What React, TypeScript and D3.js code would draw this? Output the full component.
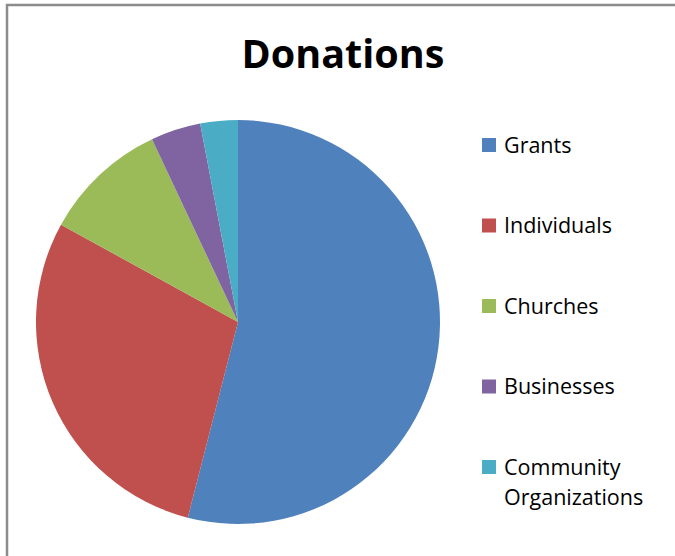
import { useEffect, useRef } from "react";
import * as d3 from "d3";

const categories = ["Grants", "Individuals", "Churches", "Businesses", "Community Organizations"];
const values = [54, 29, 10, 4, 3];
const colors = ["#4F81BD", "#C0504D", "#9BBB59", "#8064A2", "#4BACC6"];
const legendLines = [["Grants"], ["Individuals"], ["Churches"], ["Businesses"], ["Community", "Organizations"]];

export default function App() {
  const svgRef = useRef<SVGSVGElement>(null);

  useEffect(() => {
    if (!svgRef.current) return;
    const width = 675;
    const height = 556;
    const svg = d3.select(svgRef.current).attr("width", width).attr("height", height);
    svg.selectAll("*").remove();

    svg.append("rect").attr("width", width).attr("height", height).attr("fill", "#fff");

    // chart frame (left + top edges visible)
    svg.append("path")
      .attr("d", `M7,${height} V5 H${width}`)
      .attr("fill", "none")
      .attr("stroke", "#8c8c8c")
      .attr("stroke-width", 2.5);

    svg.append("text")
      .attr("x", 343)
      .attr("y", 68)
      .attr("text-anchor", "middle")
      .attr("font-family", "'Open Sans', sans-serif")
      .attr("font-weight", "bold")
      .attr("font-size", 39.5)
      .attr("fill", "#000")
      .text("Donations");

    const data = categories.map((c, i) => ({ label: c, value: values[i], color: colors[i] }));
    const pie = d3.pie<typeof data[number]>().sort(null).value((d) => d.value);
    const arc = d3.arc<d3.PieArcDatum<typeof data[number]>>().innerRadius(0).outerRadius(202);

    const g = svg.append("g").attr("transform", "translate(238,322)");
    g.selectAll("path")
      .data(pie(data))
      .join("path")
      .attr("d", arc)
      .attr("fill", (d) => d.data.color);

    const y = d3.scalePoint<string>().domain(categories).range([145, 467]);
    const leg = svg.append("g");
    categories.forEach((c, i) => {
      const cy = y(c) ?? 0;
      leg.append("rect")
        .attr("x", 482)
        .attr("y", cy - 7)
        .attr("width", 14)
        .attr("height", 14)
        .attr("fill", colors[i]);
      const t = leg.append("text")
        .attr("x", 504)
        .attr("y", cy + 7.5)
        .attr("font-family", "'Open Sans', sans-serif")
        .attr("font-size", 21.5)
        .attr("fill", "#000");
      legendLines[i].forEach((line, j) => {
        t.append("tspan").attr("x", 504).attr("dy", j === 0 ? 0 : 30).text(line);
      });
    });
  }, []);

  return (
    <svg
      ref={svgRef}
      style={{ position: "absolute", left: 0, top: 0, display: "block" }}
      role="img"
      aria-label="Donations pie chart"
    />
  );
}
